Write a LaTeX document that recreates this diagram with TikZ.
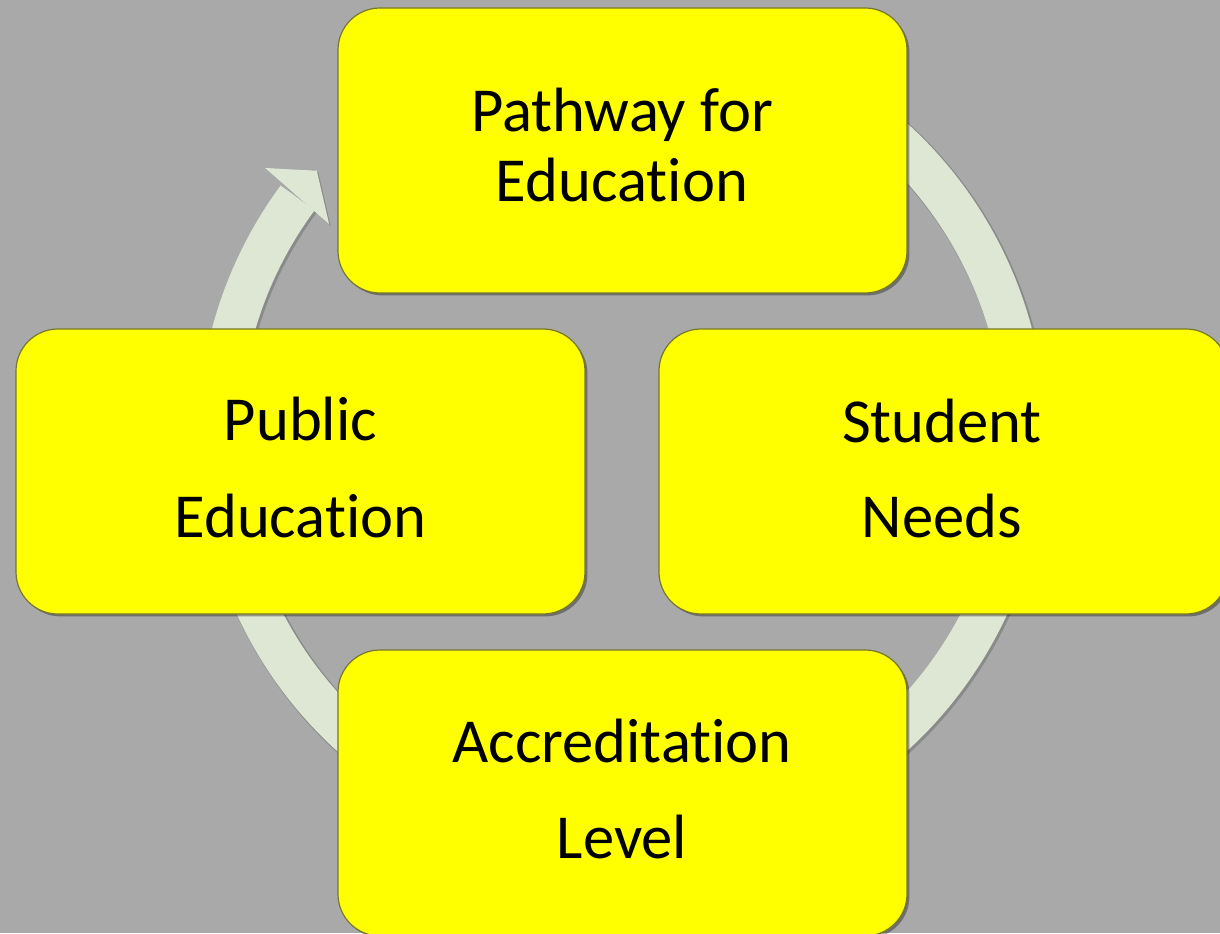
\documentclass[tikz,border=0pt]{standalone}
\usepackage{fontspec}
\setmainfont{Carlito}[Ligatures={NoCommon,NoRare,NoDiscretionary}]
\usetikzlibrary{calc,shadows}
\definecolor{bg}{HTML}{A9A9A9}
\definecolor{ringc}{HTML}{DEE7D4}
\definecolor{boxline}{HTML}{77772C}
\definecolor{boxfill}{HTML}{FFFF00}
\begin{document}
\begin{tikzpicture}[x=0.5pt,y=0.5pt,
  box/.style={draw=boxline, line width=0.6pt, fill=boxfill, rounded corners=21pt,
    minimum width=284.5pt, minimum height=142.5pt, inner sep=0pt, outer sep=0pt,
    drop shadow={shadow xshift=1.2pt, shadow yshift=-1.2pt, opacity=0.35, fill=black}},
  lbl/.style={anchor=base, inner sep=0pt, font=\fontsize{31.3}{37}\selectfont},
  ring/.style={draw=ringc, line width=21pt},
  ringshadow/.style={draw=black, opacity=0.18, line width=22pt}]
\fill[bg] (0,0) rectangle (1220,933);
\useasboundingbox (0,0) rectangle (1220,933);
\coordinate (c) at (622,496);
% cycle arrow
\draw[ringshadow] ($(c)+(1.5,-1.5)+(143.6:403)$) arc[start angle=143.6, end angle=420, radius=201.5pt];
\fill[black, opacity=0.18] ($(c)+(1.5,-1.5)+(143.0:447)$) -- ($(c)+(1.5,-1.5)+(138.9:405)$) -- ($(c)+(1.5,-1.5)+(144.0:362)$) -- cycle;
\draw[ring] ($(c)+(143.6:403)$) arc[start angle=143.6, end angle=420, radius=201.5pt];
\fill[ringc] ($(c)+(143.0:447)$) -- ($(c)+(138.9:405)$) -- ($(c)+(144.0:362)$) -- cycle;
% boxes
\node[box] (top) at (622.5,782.5) {};
\node[box] (left) at (300.5,461.5) {};
\node[box] (right) at (943.5,461.5) {};
\node[box, minimum height=143pt] (bottom) at (622.5,140) {};
% labels
\node[lbl] (t1) at (622,801) {Pathway for};
\node[lbl] (t2) at (622,731) {Education};
\node[lbl] (l1) at (300.5,493) {Public};
\node[lbl] (l2) at (300.5,396) {Education};
\node[lbl] (r1) at (942,491) {Student};
\node[lbl] (r2) at (942,396) {Needs};
\node[lbl] (b1) at (622,171) {Accreditation};
\node[lbl] (b2) at (622,75) {Level};
\end{tikzpicture}
\end{document}
